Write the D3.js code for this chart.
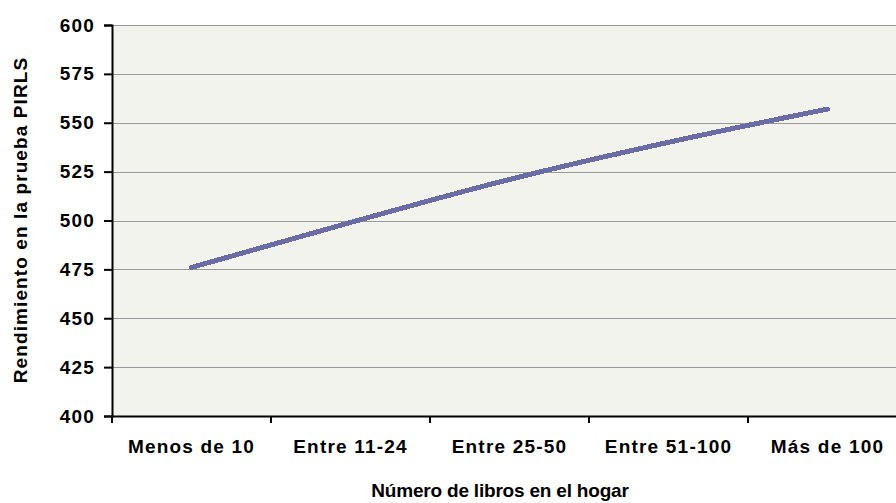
<!DOCTYPE html>
<html>
<head>
<meta charset="utf-8">
<script src="https://cdn.jsdelivr.net/npm/d3@7"></script>
<style>
  html, body { margin: 0; padding: 0; background: #ffffff; }
  svg { display: block; font-family: "Liberation Sans", Arial, sans-serif; }
</style>
</head>
<body>
<svg id="chart" width="896" height="503"></svg>
<script>
// Puntaje medio en PIRLS según número de libros en el hogar
const categories = ["Menos de 10", "Entre 11-24", "Entre 25-50", "Entre 51-100", "Más de 100"];
const scores = [476, 499, 521, 540, 557];
const yTicks = [400, 425, 450, 475, 500, 525, 550, 575, 600];

const svg = d3.select("#chart");
const W = 896, H = 503;
const plot = { left: 112, top: 25, right: 907, bottom: 416 };
const FONT = "'Liberation Sans', Arial, sans-serif";

const x = d3.scaleBand().domain(categories).range([plot.left, plot.right]).padding(0);
const y = d3.scaleLinear().domain([400, 600]).range([plot.bottom, plot.top]);

// área del gráfico
svg.append("rect")
  .attr("x", plot.left).attr("y", plot.top)
  .attr("width", W - plot.left).attr("height", plot.bottom - plot.top)
  .attr("fill", "#f3f3ee");

// líneas de cuadrícula
svg.append("g")
  .selectAll("line")
  .data(yTicks.filter(d => d > 400))
  .join("line")
  .attr("x1", plot.left).attr("x2", W)
  .attr("y1", d => Math.round(y(d)) + 0.5).attr("y2", d => Math.round(y(d)) + 0.5)
  .attr("stroke", "#9a9a9a").attr("stroke-width", 1);

// eje Y
const yAxis = svg.append("g")
  .attr("transform", `translate(${plot.left},0)`)
  .call(d3.axisLeft(y).tickValues(yTicks).tickSize(8).tickPadding(9).tickFormat(d3.format("d")));
yAxis.select(".domain").attr("stroke", "#000").attr("stroke-width", 2);
yAxis.selectAll(".tick line").attr("stroke", "#000").attr("stroke-width", 2);
yAxis.selectAll("text")
  .attr("font-size", 19).attr("font-weight", "bold").attr("fill", "#000")
  .attr("letter-spacing", 1.2)
  .attr("font-family", FONT);

// eje X
const xAxis = svg.append("g")
  .attr("transform", `translate(0,${plot.bottom})`)
  .call(d3.axisBottom(x).tickSize(0).tickPadding(24));
xAxis.select(".domain").attr("stroke", "#000").attr("stroke-width", 2);
xAxis.selectAll("text")
  .attr("font-size", 19).attr("font-weight", "bold").attr("fill", "#000")
  .attr("letter-spacing", 1.2)
  .attr("font-family", FONT);
// marcas entre categorías
svg.append("g")
  .selectAll("line")
  .data(categories)
  .join("line")
  .attr("x1", d => x(d)).attr("x2", d => x(d))
  .attr("y1", plot.bottom).attr("y2", plot.bottom + 7)
  .attr("stroke", "#000").attr("stroke-width", 2);

// línea de puntajes
const line = d3.line()
  .x((d, i) => x(categories[i]) + x.bandwidth() / 2)
  .y(d => y(d))
  .curve(d3.curveMonotoneX);
svg.append("path")
  .datum(scores)
  .attr("d", line)
  .attr("fill", "none")
  .attr("stroke", "#6b6ba6")
  .attr("stroke-width", 5)
  .attr("stroke-linecap", "round")
  .attr("shape-rendering", "crispEdges");

// títulos de los ejes
svg.append("text")
  .attr("x", 500).attr("y", 497)
  .attr("text-anchor", "middle")
  .attr("font-size", 19).attr("font-weight", "bold")
  .attr("letter-spacing", -0.2)
  .text("Número de libros en el hogar");

svg.append("text")
  .attr("transform", "translate(27,220) rotate(-90)")
  .attr("text-anchor", "middle")
  .attr("font-size", 19).attr("font-weight", "bold")
  .attr("letter-spacing", 1.1)
  .text("Rendimiento en la prueba PIRLS");
</script>
</body>
</html>
